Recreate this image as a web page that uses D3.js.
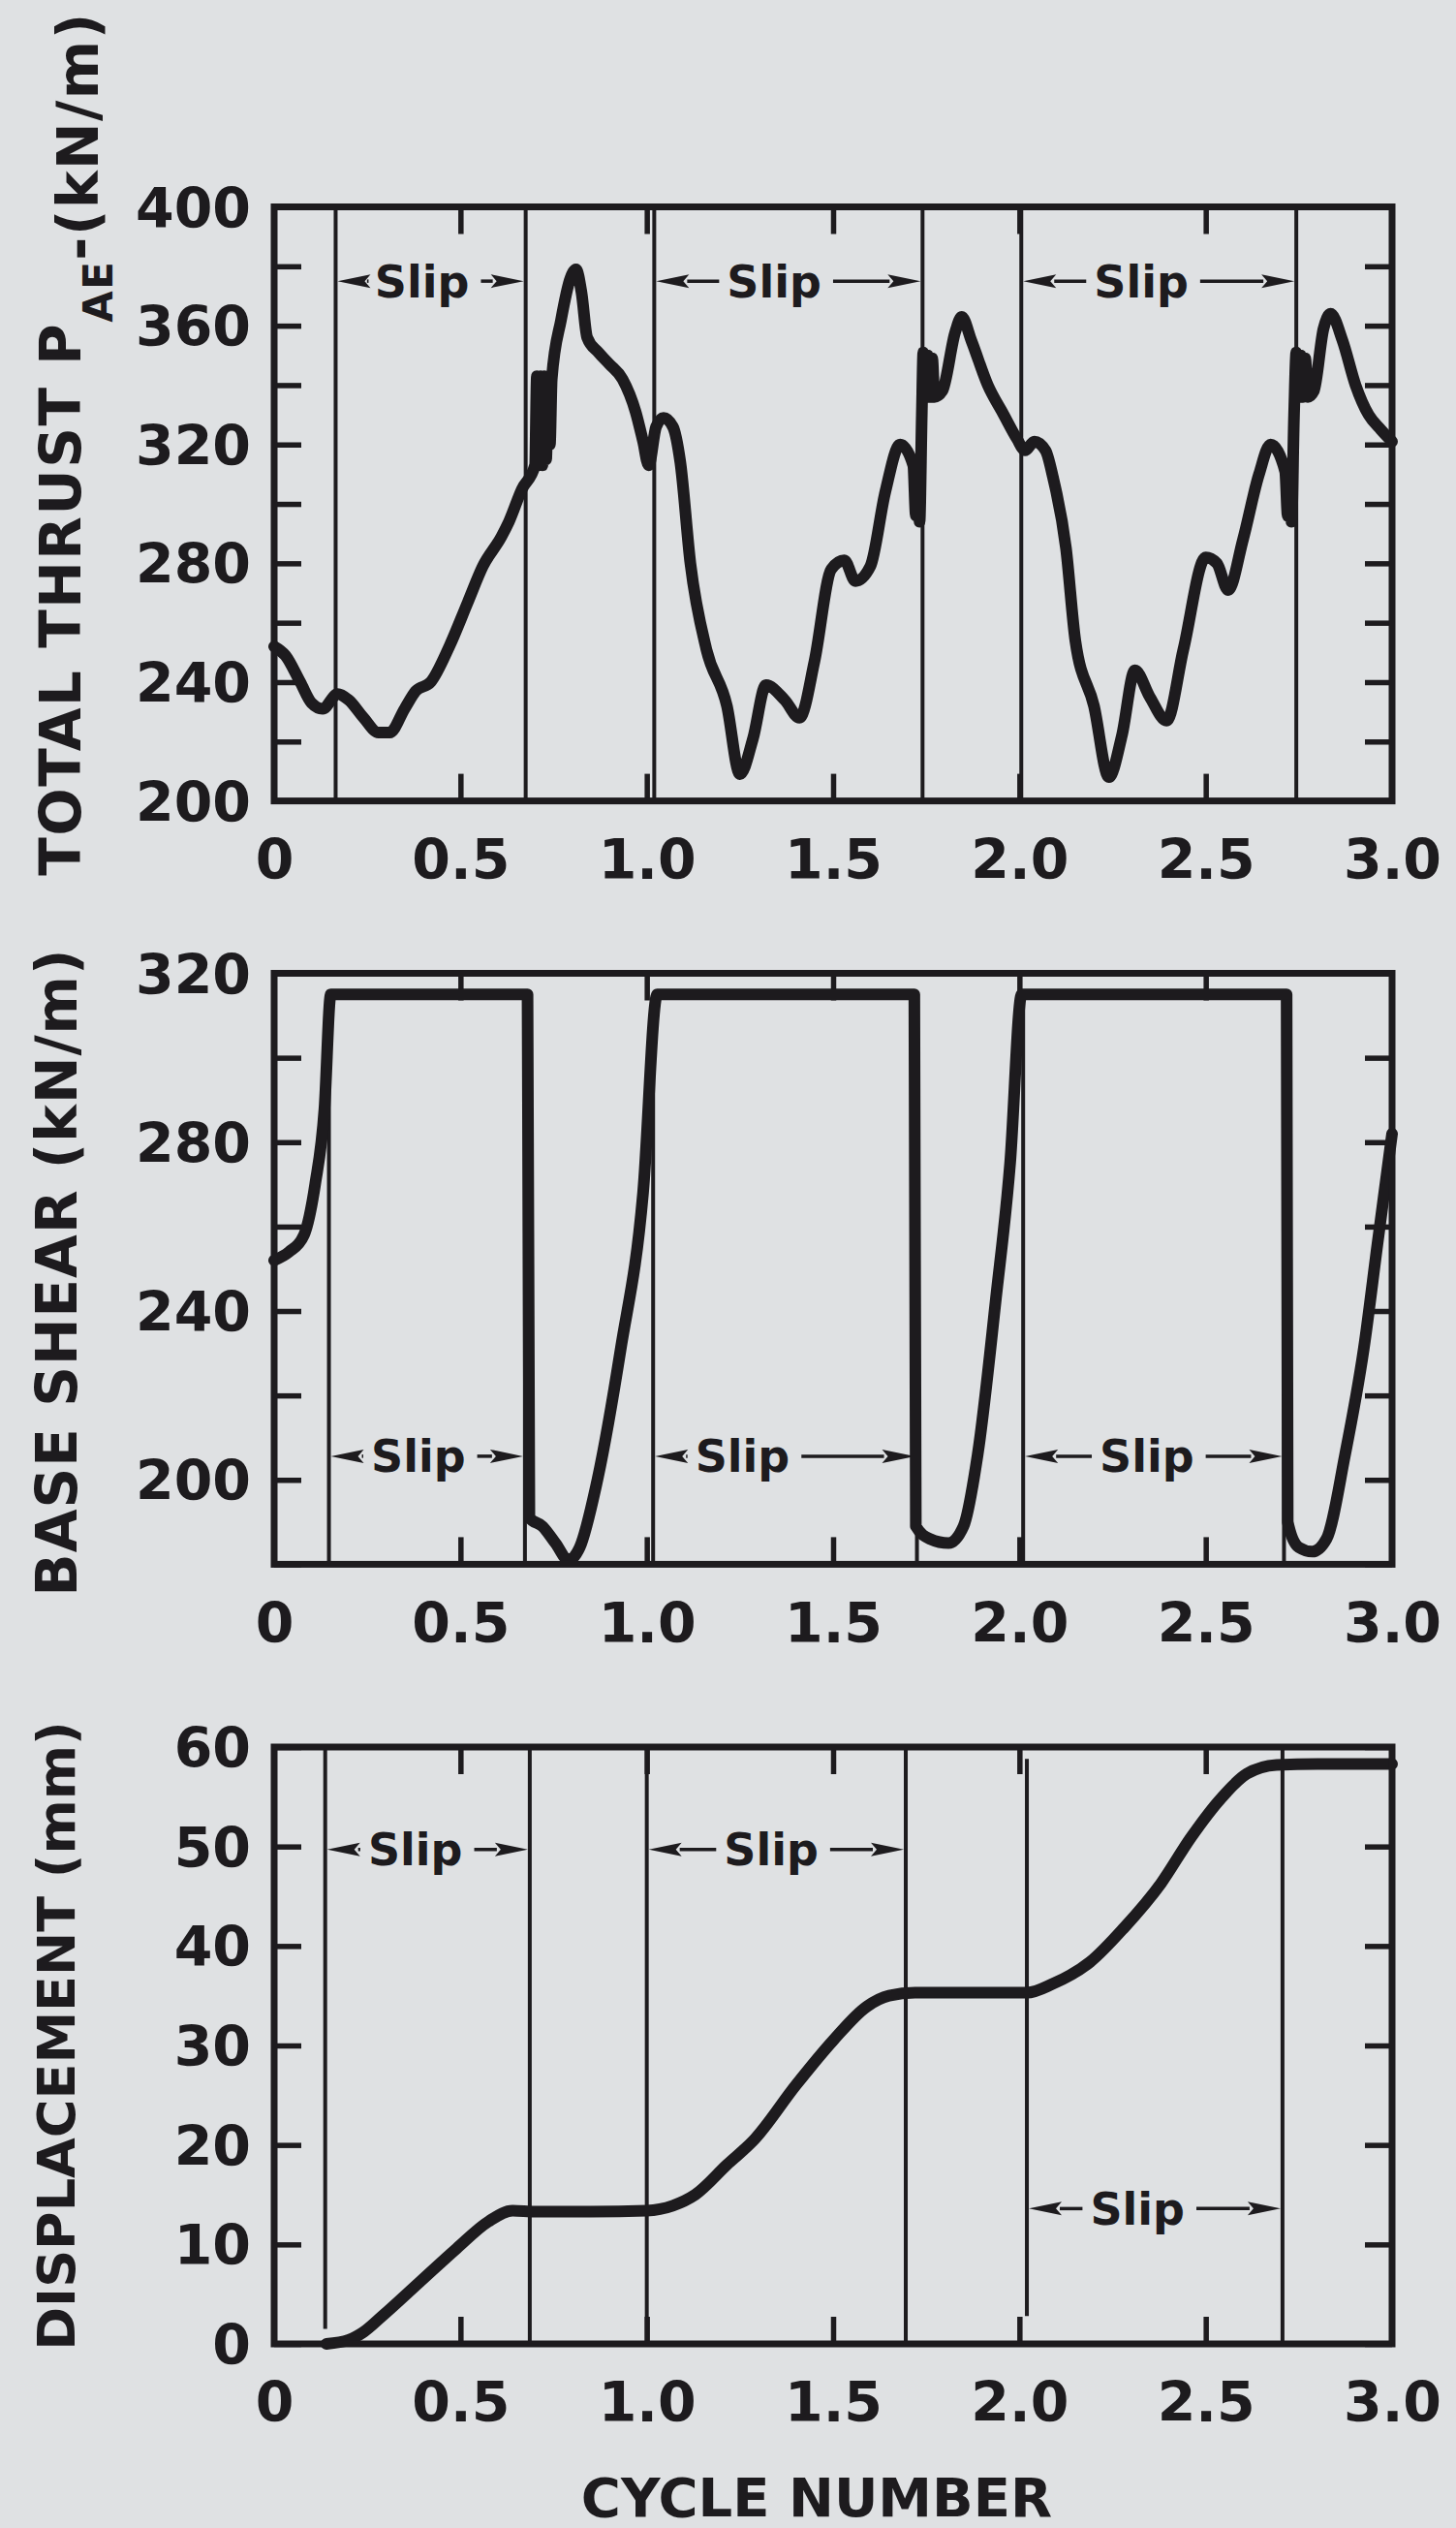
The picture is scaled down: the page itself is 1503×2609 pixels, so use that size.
<!DOCTYPE html>
<html>
<head>
  <meta charset="utf-8">
  <title>Total thrust, base shear and displacement vs cycle number</title>
  <style>
    body { margin: 0; background: #dfe1e3; }
    svg { display: block; }
    text { font-family: "DejaVu Sans", Verdana, sans-serif; font-weight: bold; fill: #1d1b1e; }
  </style>
  <script src="https://d3js.org/d3.v7.min.js"></script>
</head>
<body>
  <div id="chart"></div>
  <script>
    // ---- data (cycle number, value) ----
    const thrust = [
      [0.00, 252], [0.03, 249], [0.07, 240], [0.10, 233], [0.13, 231], [0.17, 236], [0.20, 234],
      [0.24, 228], [0.28, 223], [0.31, 223], [0.35, 231], [0.38, 237], [0.42, 240], [0.47, 252],
      [0.52, 267], [0.56, 279], [0.61, 289], [0.63, 294], [0.665, 305], [0.70, 313], [0.705, 343],
      [0.71, 313], [0.715, 343], [0.72, 313], [0.725, 343], [0.73, 315], [0.735, 343], [0.74, 320],
      [0.745, 342], [0.77, 362], [0.795, 376], [0.81, 379], [0.825, 371], [0.84, 356], [0.87, 351],
      [0.90, 347], [0.935, 342], [0.97, 331], [0.99, 321], [1.005, 313], [1.025, 326], [1.045, 329],
      [1.07, 326], [1.09, 314], [1.117, 280], [1.16, 251], [1.215, 232], [1.25, 209], [1.285, 221],
      [1.32, 239], [1.37, 234], [1.41, 228], [1.45, 247], [1.495, 278], [1.53, 281], [1.56, 274],
      [1.60, 279], [1.64, 304], [1.68, 320], [1.715, 313], [1.722, 296], [1.728, 312], [1.732, 294],
      [1.738, 330], [1.742, 351], [1.748, 336], [1.754, 350], [1.76, 336], [1.766, 349], [1.772, 336],
      [1.793, 338], [1.828, 358], [1.845, 363], [1.871, 355], [1.915, 340], [1.958, 330], [1.993, 322],
      [2.015, 318], [2.04, 321], [2.07, 318], [2.09, 309], [2.125, 285], [2.15, 254], [2.20, 232],
      [2.24, 208], [2.275, 222], [2.31, 244], [2.35, 235], [2.395, 227], [2.44, 251], [2.50, 282],
      [2.53, 280], [2.56, 271], [2.60, 288], [2.643, 310], [2.674, 320], [2.713, 311], [2.72, 296],
      [2.726, 312], [2.73, 294], [2.737, 330], [2.743, 351], [2.749, 336], [2.755, 350], [2.761, 336],
      [2.767, 349], [2.774, 336], [2.79, 338], [2.816, 359], [2.835, 364], [2.867, 355], [2.902, 340],
      [2.937, 330], [2.97, 325], [3.00, 321]
    ];

    const shear = [
      [0.00, 252], [0.04, 254], [0.08, 258], [0.11, 270], [0.135, 288], [0.152, 315], [0.68, 315],
      [0.685, 191], [0.72, 189], [0.755, 185], [0.79, 181], [0.82, 184], [0.865, 199], [0.93, 231],
      [0.99, 268], [1.028, 315], [1.718, 315], [1.722, 189], [1.76, 186], [1.81, 185], [1.85, 189],
      [1.888, 206], [1.937, 243], [1.975, 275], [2.006, 315], [2.717, 315], [2.72, 190], [2.75, 184],
      [2.786, 183], [2.824, 186], [2.874, 206], [2.924, 231], [2.961, 256], [3.00, 282]
    ];

    const displacement = [
      [0.14, 0], [0.20, 0.4], [0.24, 1.2], [0.29, 2.8], [0.39, 6.2], [0.49, 9.6], [0.575, 12.3],
      [0.64, 13.4], [0.70, 13.3], [0.85, 13.3], [1.00, 13.4], [1.07, 13.9], [1.13, 15.0], [1.215, 18.0],
      [1.29, 20.6], [1.40, 26.0], [1.50, 30.5], [1.59, 33.9], [1.65, 35.0], [1.72, 35.3], [1.85, 35.3],
      [2.02, 35.3], [2.09, 36.2], [2.19, 38.4], [2.28, 41.8], [2.38, 46.3], [2.46, 50.9], [2.54, 54.8],
      [2.61, 57.3], [2.69, 58.2], [2.80, 58.3], [3.00, 58.3]
    ];

    // slip boundary lines: [cycle, value at top, value at bottom]
    const thrustSlipLines = [[0.165, 400, 200], [0.675, 400, 200], [1.02, 400, 200], [1.74, 400, 200], [2.005, 400, 200], [2.743, 400, 200]];
    const shearSlipLines = [[0.147, 315, 180], [0.673, 315, 180], [1.017, 315, 180], [1.725, 315, 180], [2.01, 315, 180], [2.71, 315, 180]];
    const dispSlipLines = [[0.137, 60, 1.5], [0.686, 60, 0], [1.0, 60, 0], [1.695, 60, 0], [2.02, 58.8, 2.8], [2.706, 60, 0]];

    // slip labels: [from, to, text start, value level]
    const thrustSlips = [[0.165, 0.675, 0.27, 375], [1.02, 1.74, 1.215, 375], [2.005, 2.743, 2.2, 375]];
    const shearSlips = [[0.147, 0.673, 0.26, 205.6], [1.017, 1.725, 1.13, 205.6], [2.01, 2.71, 2.215, 205.6]];
    const dispSlips = [[0.137, 0.686, 0.252, 49.7], [1.0, 1.695, 1.207, 49.7], [2.02, 2.706, 2.19, 13.6]];

    // axis ticks
    const xTicks = [0.5, 1.0, 1.5, 2.0, 2.5];
    const xLabels = [0, 0.5, 1.0, 1.5, 2.0, 2.5, 3.0];
    const thrustTicks = [200, 220, 240, 260, 280, 300, 320, 340, 360, 380, 400];
    const thrustLabels = [200, 240, 280, 320, 360, 400];
    const shearTicks = [180, 200, 220, 240, 260, 280, 300, 320];
    const shearLabels = [200, 240, 280, 320];
    const dispTicks = [0, 10, 20, 30, 40, 50, 60];
    const dispLabels = [0, 10, 20, 30, 40, 50, 60];

    const ink = "#1d1b1e";
    const W = 1503, H = 2609;
    const left = 283, right = 1437;

    const svg = d3.select("#chart").append("svg")
      .attr("width", W)
      .attr("height", H);

    svg.append("rect").attr("width", W).attr("height", H).attr("fill", "#dfe1e3");

    const panels = [
      { data: thrust, top: 213.5, bottom: 826.6, domain: [200, 400], ticks: thrustTicks, labels: thrustLabels, lines: thrustSlipLines, slips: thrustSlips },
      { data: shear, top: 1004.5, bottom: 1614.4, domain: [180, 320], ticks: shearTicks, labels: shearLabels, lines: shearSlipLines, slips: shearSlips },
      { data: displacement, top: 1803, bottom: 2419, domain: [0, 60], ticks: dispTicks, labels: dispLabels, lines: dispSlipLines, slips: dispSlips }
    ];

    const width = right - left;

    function styleAxis(g) {
      g.select(".domain").remove();
      g.selectAll("line").attr("stroke", ink).attr("stroke-width", 5.5);
      g.selectAll("text")
        .attr("font-family", "DejaVu Sans, Verdana, sans-serif")
        .attr("font-weight", "bold")
        .attr("font-size", 57)
        .attr("fill", ink);
    }

    function drawSlip(g, x, y, s) {
      const yy = y(s[3]);
      const x0 = x(s[0]) + 2, x1 = x(s[1]) - 2;
      const tx = x(s[2]);
      const t = g.append("text")
        .attr("x", tx)
        .attr("y", yy)
        .attr("dy", "0.36em")
        .attr("font-size", 46)
        .text("Slip");
      const tw = t.node().getComputedTextLength();
      const head = 34, half = 7;
      // left arrow
      g.append("line")
        .attr("x1", x0 + head - 2).attr("x2", tx - 8)
        .attr("y1", yy).attr("y2", yy)
        .attr("stroke", ink).attr("stroke-width", 3.5);
      g.append("path")
        .attr("d", `M${x0},${yy}L${x0 + head},${yy - half}L${x0 + head - 6},${yy}L${x0 + head},${yy + half}Z`)
        .attr("fill", ink);
      // right arrow
      g.append("line")
        .attr("x1", tx + tw + 12).attr("x2", x1 - head + 2)
        .attr("y1", yy).attr("y2", yy)
        .attr("stroke", ink).attr("stroke-width", 3.5);
      g.append("path")
        .attr("d", `M${x1},${yy}L${x1 - head},${yy - half}L${x1 - head + 6},${yy}L${x1 - head},${yy + half}Z`)
        .attr("fill", ink);
    }

    panels.forEach(p => {
      const height = p.bottom - p.top;
      const g = svg.append("g").attr("transform", `translate(${left},${p.top})`);

      const x = d3.scaleLinear().domain([0, 3]).range([0, width]);
      const y = d3.scaleLinear().domain(p.domain).range([height, 0]);

      // ticks on all four sides, pointing inward
      g.append("g")
        .call(d3.axisLeft(y).tickValues(p.ticks).tickSize(-28).tickPadding(24)
          .tickFormat(d => p.labels.includes(d) ? d : ""))
        .call(styleAxis)
        .selectAll("text").attr("dy", "0.36em");

      g.append("g")
        .attr("transform", `translate(${width},0)`)
        .call(d3.axisRight(y).tickValues(p.ticks).tickSize(-28).tickFormat(""))
        .call(styleAxis);

      g.append("g")
        .call(d3.axisTop(x).tickValues(xTicks).tickSize(-28).tickFormat(""))
        .call(styleAxis);

      g.append("g")
        .attr("transform", `translate(0,${height})`)
        .call(d3.axisBottom(x).tickValues(xTicks).tickSize(-28).tickFormat(""))
        .call(styleAxis);

      g.append("g")
        .attr("transform", `translate(0,${height})`)
        .call(d3.axisBottom(x).tickValues(xLabels).tickSize(0).tickPadding(40)
          .tickFormat(d => d === 0 ? "0" : d3.format(".1f")(d)))
        .call(styleAxis);

      // slip boundary lines
      g.selectAll(".slip-line")
        .data(p.lines)
        .enter()
        .append("line")
        .attr("x1", d => x(d[0])).attr("x2", d => x(d[0]))
        .attr("y1", d => y(d[1])).attr("y2", d => y(d[2]))
        .attr("stroke", ink)
        .attr("stroke-width", 4);

      p.slips.forEach(s => drawSlip(g, x, y, s));

      const line = d3.line()
        .x(d => x(d[0]))
        .y(d => y(d[1]))
        .curve(d3.curveMonotoneX);

      g.append("path")
        .datum(p.data)
        .attr("fill", "none")
        .attr("stroke", ink)
        .attr("stroke-width", 12)
        .attr("stroke-linejoin", "round")
        .attr("stroke-linecap", "round")
        .attr("d", line);

      // frame
      g.append("rect")
        .attr("width", width)
        .attr("height", height)
        .attr("fill", "none")
        .attr("stroke", ink)
        .attr("stroke-width", 7);
    });

    // axis titles
    const t1 = svg.append("text")
      .attr("transform", "translate(83,458) rotate(-90)")
      .attr("text-anchor", "middle")
      .attr("font-size", 58)
      .attr("letter-spacing", 1.5);
    t1.append("tspan").text("TOTAL THRUST P");
    t1.append("tspan").attr("font-size", 42).attr("dy", 33).text("AE");
    t1.append("tspan").attr("dy", -15).text("-(kN/m)");

    svg.append("text")
      .attr("transform", "translate(79,1313) rotate(-90)")
      .attr("text-anchor", "middle")
      .attr("font-size", 58)
      .attr("letter-spacing", 1)
      .text("BASE SHEAR (kN/m)");

    svg.append("text")
      .attr("transform", "translate(77,2101) rotate(-90)")
      .attr("text-anchor", "middle")
      .attr("font-size", 54)
      .text("DISPLACEMENT (mm)");

    svg.append("text")
      .attr("x", 843)
      .attr("y", 2597)
      .attr("text-anchor", "middle")
      .attr("font-size", 56)
      .text("CYCLE NUMBER");
  </script>
</body>
</html>
